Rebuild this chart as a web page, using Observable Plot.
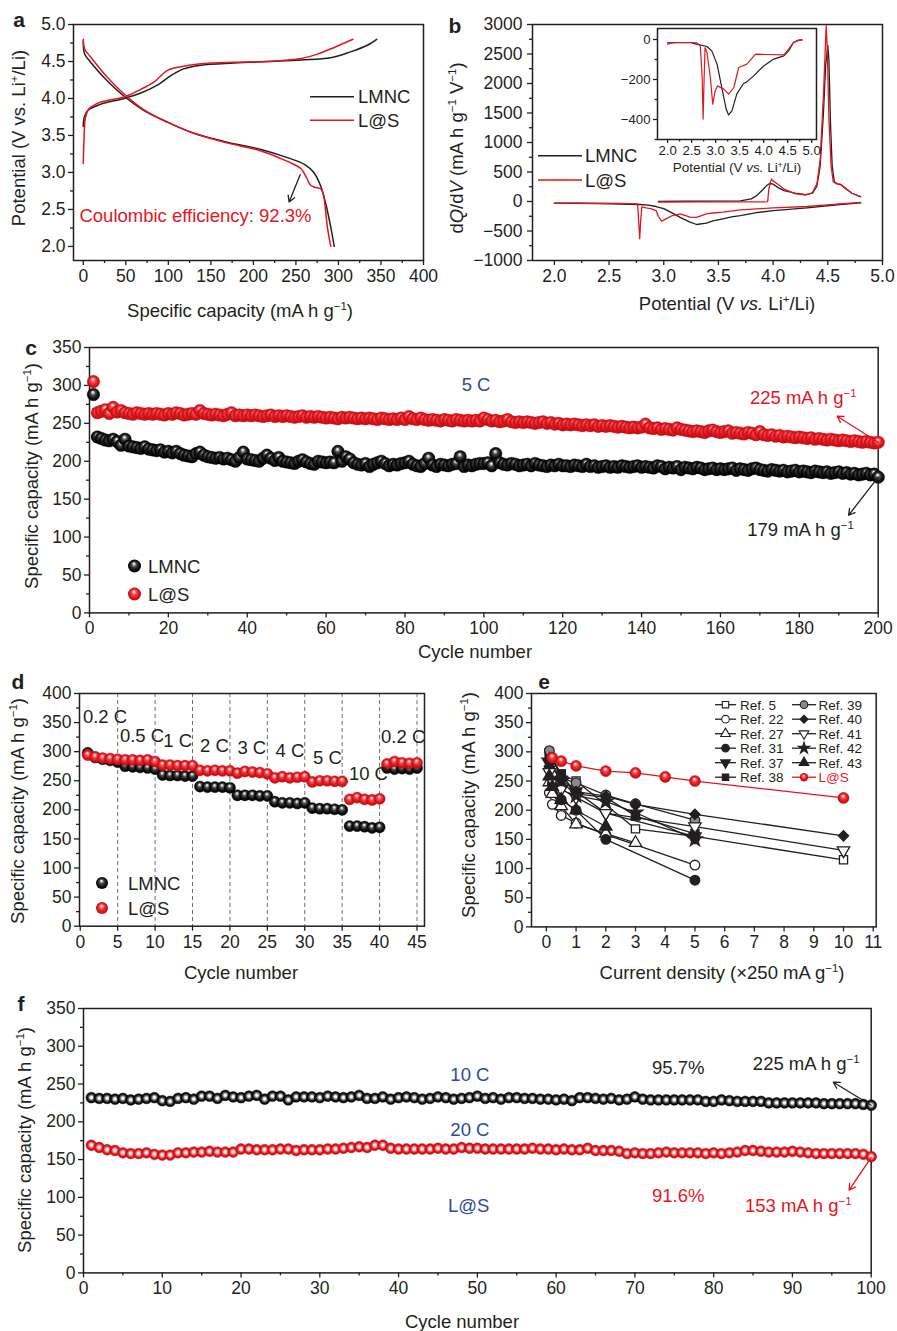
<!DOCTYPE html>
<html><head><meta charset="utf-8">
<script src="https://cdn.jsdelivr.net/npm/d3@7"></script>
<script src="https://cdn.jsdelivr.net/npm/@observablehq/plot@0.6"></script>
<style>
body{margin:0;background:#fff;}
#root{position:relative;width:897px;height:1331px;font-family:"Liberation Sans",Arial,Helvetica,sans-serif;color:#231f20;overflow:hidden;background:#fff;}
.t{position:absolute;white-space:nowrap;font-size:18.5px;line-height:1;}
.t sup{font-size:0.62em;vertical-align:0.55em;line-height:0;}
.lt{font-weight:bold;font-size:21px;}
</style></head><body><div id="root"></div>
<script>
// ---------------- DATA ----------------
// Panel a: charge/discharge curves [capacity, potential]
const aLmncCharge = [[0,3.62],[0.8,3.73],[5.5,3.84],[20,3.92],[48,4.0],[67,4.07],[87,4.18],[103,4.31],[118,4.40],[138,4.45],[177,4.48],[216,4.50],[256,4.52],[291,4.55],[314,4.63],[334,4.72],[345,4.80]];
const aLsCharge = [[0,3.12],[0.8,3.43],[2.7,3.75],[6.7,3.86],[20,3.95],[48,4.02],[67,4.12],[83,4.22],[99,4.38],[115,4.43],[138,4.47],[177,4.49],[216,4.50],[256,4.54],[275,4.60],[295,4.69],[317,4.80]];
const aLmncDischarge = [[0,4.78],[1.6,4.60],[8.6,4.49],[28,4.24],[48,4.03],[71,3.84],[99,3.68],[130,3.53],[169,3.41],[209,3.31],[240,3.20],[260,3.11],[271,3.0],[279,2.82],[285,2.58],[291,2.26],[295,2.0]];
const aLsDischarge = [[0,4.80],[1.6,4.67],[8.6,4.56],[28,4.29],[48,4.06],[71,3.85],[99,3.68],[130,3.53],[169,3.40],[209,3.29],[240,3.15],[256,3.05],[262,2.94],[267,2.83],[272,2.80],[279,2.78],[282,2.72],[284,2.58],[287,2.26],[291,2.0]];
const aXTicks = [0,50,100,150,200,250,300,350,400];
const aYTicks = [2.0,2.5,3.0,3.5,4.0,4.5,5.0];

// Panel b: dQ/dV [potential, dQ/dV]
const bLmncCharge = [[2.95,3],[3.2,4],[3.5,5],[3.7,10],[3.8,45],[3.85,100],[3.9,190],[3.94,270],[3.97,305],[4.0,295],[4.05,230],[4.1,185],[4.2,140],[4.3,115],[4.36,140],[4.4,260],[4.43,600],[4.46,1500],[4.48,2300],[4.50,2650],[4.51,2400],[4.525,1300],[4.54,600],[4.56,330],[4.59,300],[4.62,290],[4.66,230],[4.72,140],[4.8,80]];
const bLsCharge = [[2.95,-10],[3.3,-8],[3.6,-6],[3.9,-5],[3.95,-2],[3.96,200],[3.975,330],[3.985,380],[4.0,350],[4.05,285],[4.1,210],[4.2,135],[4.3,110],[4.36,150],[4.40,300],[4.43,700],[4.46,1800],[4.475,2500],[4.485,2980],[4.495,2600],[4.51,1400],[4.53,600],[4.55,330],[4.58,300],[4.62,280],[4.66,220],[4.72,140],[4.8,85]];
const bLmncDischarge = [[4.8,-23],[4.61,-51],[4.31,-107],[4.0,-153],[3.85,-190],[3.70,-238],[3.62,-260],[3.54,-294],[3.45,-330],[3.39,-368],[3.30,-390],[3.24,-350],[3.15,-270],[3.08,-198],[3.0,-120],[2.93,-85],[2.86,-62],[2.78,-51],[2.6,-42],[2.4,-35],[2.2,-30],[2.0,-28]];
const bLsDischarge = [[4.8,-17],[4.61,-40],[4.31,-85],[4.0,-107],[3.85,-125],[3.70,-141],[3.54,-181],[3.45,-195],[3.39,-209],[3.30,-270],[3.24,-265],[3.15,-209],[3.08,-238],[3.02,-294],[2.98,-334],[2.95,-250],[2.93,-153],[2.88,-120],[2.84,-107],[2.80,-90],[2.79,-300],[2.78,-630],[2.77,-300],[2.76,-40],[2.6,-32],[2.4,-30],[2.2,-28],[2.0,-28]];
const bXTicks = [2.0,2.5,3.0,3.5,4.0,4.5,5.0];
const bYTicks = [-1000,-500,0,500,1000,1500,2000,2500,3000];

// Panel b inset (discharge only)
const iLmnc = [[2.0,-17],[2.47,-15],[2.6,-23],[2.82,-35],[2.92,-57],[3.03,-123],[3.1,-207],[3.17,-290],[3.22,-348],[3.27,-377],[3.34,-357],[3.44,-273],[3.58,-220],[3.65,-212],[3.79,-182],[4.0,-132],[4.21,-98],[4.42,-82],[4.52,-57],[4.62,-15],[4.73,-3],[4.8,-2]];
const iLs = [[2.0,-23],[2.13,-15],[2.47,-15],[2.61,-17],[2.68,-32],[2.72,-190],[2.74,-398],[2.76,-200],[2.78,-40],[2.82,-65],[2.89,-190],[2.94,-323],[2.99,-257],[3.04,-232],[3.17,-248],[3.27,-273],[3.38,-240],[3.48,-140],[3.65,-123],[3.83,-73],[4.07,-75],[4.42,-77],[4.52,-48],[4.62,-15],[4.73,-3],[4.8,-2]];
const iXTicks = [2.0,2.5,3.0,3.5,4.0,4.5,5.0];
const iYTicks = [-400,-200,0];

// Panel c: 5 C cycling, 200 cycles
const cLmnc = [288,232,230,228,227,229,226,221,229,220, 219,218,217,219,216,215,214,215,212,213, 211,213,210,208,207,206,210,212,208,206, 205,204,205,203,204,202,200,205,212,203,
 202,201,200,204,208,204,201,205,200,199, 198,197,200,202,199,197,196,200,199,198, 199,198,213,200,206,203,198,196,195,197, 193,196,198,200,197,194,196,195,197,198,
 200,196,194,193,197,204,195,193,196,195, 194,196,197,206,193,195,194,196,197,197, 198,194,210,198,196,195,197,196,194,195, 196,194,197,195,194,193,195,194,196,194,
 194,193,195,194,193,196,193,194,192,193, 194,192,193,192,194,193,192,193,194,192, 193,192,191,194,193,190,192,191,193,189, 192,191,190,192,191,189,190,191,189,190,
 189,190,191,188,190,189,188,190,191,189, 188,187,189,188,187,188,186,187,188,186, 187,186,185,187,186,185,186,184,185,186, 184,185,183,184,182,183,184,182,183,179];
const cLs = [305,264,266,268,263,271,265,267,264,263, 262,264,263,262,263,262,263,262,261,263, 262,264,263,261,262,263,262,267,263,262, 261,262,261,260,262,264,260,261,260,261,
 260,261,260,259,260,261,259,260,259,260, 259,258,259,260,258,259,258,259,258,257, 258,257,256,258,257,258,257,256,257,256, 257,256,255,257,256,255,256,255,257,255,
 259,256,255,257,255,254,255,254,253,255, 254,253,255,254,253,254,253,254,253,257, 255,253,254,252,253,255,252,251,252,251, 252,251,250,251,252,250,251,249,250,248,
 249,248,249,248,247,248,247,248,246,247, 246,247,246,245,246,245,244,245,244,245, 249,244,243,244,242,243,242,241,244,242, 241,240,239,240,239,238,240,241,239,238,
 239,240,237,238,237,236,238,237,235,239, 235,234,235,233,234,232,233,232,231,232, 231,230,231,229,230,229,228,229,228,227, 228,227,226,227,226,225,226,225,224,225];
const cXTicks = [0,20,40,60,80,100,120,140,160,180,200];
const cYTicks = [0,50,100,150,200,250,300,350];

// Panel d: rate capability, 45 cycles
const dLmnc = [298,290,287,285,282, 275,274,273,272,270, 260,259,259,258,258, 240,239,239,239,238, 225,225,225,224,224, 214,212,212,211,212, 203,202,202,201,200, 172,172,171,169,170, 272,270,271,270,272];
const dLs = [294,291,289,288,287, 286,286,285,286,283, 277,277,276,276,276, 268,267,268,267,267, 263,266,265,264,262, 255,257,255,256,257, 248,250,250,249,249, 218,221,218,217,219, 279,283,281,280,281];
const dRates = ["0.2 C","0.5 C","1 C","2 C","3 C","4 C","5 C","10 C","0.2 C"];
const dXTicks = [0,5,10,15,20,25,30,35,40,45];
const dYTicks = [0,50,100,150,200,250,300,350,400];

// Panel e: comparison with literature [current density (x250 mA/g), capacity]
const eRef5  = [[0.1,298],[0.5,262],[1,250],[3,168],[5,155],[10,115]];
const eRef22 = [[0.1,230],[0.2,210],[0.5,191],[1,178],[2,158],[5,106]];
const eRef27 = [[0.1,248],[0.2,228],[0.5,207],[1,176],[2,160],[3,144]];
const eRef31 = [[0.1,270],[0.2,245],[0.5,218],[1,200],[2,150],[5,80]];
const eRef37 = [[0.1,280],[0.5,252],[1,232],[2,195],[5,155]];
const eRef38 = [[0.1,292],[0.5,262],[1,228],[2,222],[3,190],[5,160]];
const eRef39 = [[0.1,302],[0.5,255],[1,247],[2,226],[3,211],[5,183]];
const eRef40 = [[0.1,275],[0.5,258],[1,232],[2,224],[3,210],[5,193],[10,156]];
const eRef41 = [[0.1,265],[0.2,250],[0.5,236],[1,222],[2,195],[5,172],[10,131]];
const eRef42 = [[0.1,285],[0.5,250],[1,225],[2,215],[3,196],[5,150]];
const eRef43 = [[0.1,258],[0.2,240],[0.5,218],[1,200],[2,172]];
const eLs    = [[0.2,290],[0.5,284],[1,276],[2,267],[3,264],[4,257],[5,250],[10,221]];
const eXTicks = [0,1,2,3,4,5,6,7,8,9,10,11];
const eYTicks = [0,50,100,150,200,250,300,350,400];

// Panel f: L@S at 10 C and 20 C, 100 cycles
const f10C = [232,231,231,230,231,229,230,231,232,228, 227,231,232,230,234,234,231,235,233,232, 234,235,230,234,234,229,233,233,233,232, 234,233,232,233,235,231,231,233,230,232,
 233,232,230,231,233,232,230,231,232,234, 231,232,230,232,232,231,231,230,230,229, 230,228,232,232,231,230,231,229,230,233, 230,229,229,229,229,229,229,229,227,227,
 229,228,227,227,227,227,225,225,225,225, 225,225,225,224,224,224,224,224,223,222];
const f20C = [169,166,163,162,159,158,158,159,157,156, 156,159,159,160,160,161,160,160,160,164, 164,163,163,163,164,164,162,163,163,163, 164,164,165,166,167,166,169,169,165,164,
 164,164,164,164,165,164,164,166,165,165, 164,164,164,164,164,164,165,164,164,163, 164,163,163,165,162,162,162,161,158,159, 158,158,159,160,159,159,159,159,158,159,
 158,159,160,162,162,161,160,160,160,161, 160,159,158,158,158,158,158,158,157,154];
const fXTicks = [0,10,20,30,40,50,60,70,80,90,100];
const fYTicks = [0,50,100,150,200,250,300,350];

// ---------------- DRAWING ----------------
const INK = "#231f20", RED = "#e4161d", BLUE = "#2b4a9a";
const FONT = '"Liberation Sans", Arial, Helvetica, sans-serif';
const TICKFS = 17.5, LABFS = 18.5;
const root = document.getElementById("root");
const f1 = d3.format(".1f"), fd = d3.format("d");
const mids = (t) => t.slice(1).map((v, i) => (v + t[i]) / 2);

function panel(frame, m, xo, yo, marks, fs = TICKFS) {
  const [x0, y0, x1, y1] = frame, [mt, mr, mb, ml] = m;
  const p = Plot.plot({
    width: x1 - x0 + ml + mr, height: y1 - y0 + mt + mb,
    marginTop: mt, marginRight: mr, marginBottom: mb, marginLeft: ml,
    x: {...xo, axis: null, label: null}, y: {...yo, axis: null, label: null},
    style: {background: "transparent", fontFamily: FONT, fontSize: fs + "px", color: INK, overflow: "visible"},
    marks: marks.flat().filter(Boolean)
  });
  p.style.position = "absolute";
  p.style.left = (x0 - ml) + "px";
  p.style.top = (y0 - mt) + "px";
  p._ox = x0 - ml; p._oy = y0 - mt;
  root.appendChild(p);
  return p;
}
function axes(xt, xm, yt, ym, xf, yf, o = {}) {
  const ts = o.ts ?? 5, ms = o.ms ?? 3;
  return [
    Plot.axisX(xt, {tickSize: ts, tickPadding: o.xp ?? 4, tickFormat: xf, label: null, strokeWidth: 1.3}),
    xm ? Plot.axisX(xm, {tickSize: ms, tickFormat: () => "", label: null, strokeWidth: 1.3}) : null,
    Plot.axisY(yt, {tickSize: ts, tickPadding: o.yp ?? 3, tickFormat: yf, label: null, strokeWidth: 1.3}),
    ym ? Plot.axisY(ym, {tickSize: ms, tickFormat: () => "", label: null, strokeWidth: 1.3}) : null,
    Plot.frame({stroke: INK, strokeWidth: 1.5})
  ];
}
function txt(x, y, html, css = {}, tf = "translate(-50%,-50%)") {
  const d = document.createElement("div");
  d.className = "t"; d.innerHTML = html;
  d.style.left = x + "px"; d.style.top = y + "px"; d.style.transform = tf;
  Object.assign(d.style, css);
  root.appendChild(d);
  return d;
}
function note(p, xv, yv, html, css = {}, anchor = "start") {
  const X = p._ox + p.scale("x").apply(xv), Y = p._oy + p.scale("y").apply(yv);
  const tf = anchor === "start" ? "translate(0,-50%)" : anchor === "end" ? "translate(-100%,-50%)" : "translate(-50%,-50%)";
  return txt(X, Y, html, css, tf);
}
const ylab = (x, y, html, css = {}) => txt(x, y, html, css, "translate(-50%,-50%) rotate(-90deg)");
const px = (d) => d[0], py = (d) => d[1];
const arrowOpts = (color) => ({x1: d => d[0], y1: d => d[1], x2: d => d[2], y2: d => d[3], stroke: color, strokeWidth: 1.3, headLength: 8});

// ---- Panel a ----
const pa = panel([73, 24, 423, 260], [10, 10, 40, 50], {domain: [-11.5, 400]}, {domain: [1.81, 5.0]}, [
  axes(aXTicks, mids(aXTicks), aYTicks, mids(aYTicks), fd, f1),
  Plot.line(aLmncCharge, {x: px, y: py, stroke: INK, strokeWidth: 1.5, curve: "catmull-rom"}),
  Plot.line(aLmncDischarge, {x: px, y: py, stroke: INK, strokeWidth: 1.5, curve: "catmull-rom"}),
  Plot.line(aLsCharge, {x: px, y: py, stroke: RED, strokeWidth: 1.5, curve: "catmull-rom"}),
  Plot.line(aLsDischarge, {x: px, y: py, stroke: RED, strokeWidth: 1.5, curve: "catmull-rom"}),
  Plot.arrow([[255, 2.97, 242, 2.60]], arrowOpts(INK))
]);
note(pa, -3.9, 2.40, "Coulombic efficiency: 92.3%", {color: RED});
txt(240, 311, "Specific capacity (mA h g<sup>−1</sup>)");
ylab(18.5, 138, "Potential (V vs. Li<sup>+</sup>/Li)");
txt(19, 19, "a").classList.add("lt");

// ---- Panel b ----
const pb = panel([532, 24, 882, 260], [10, 10, 40, 70], {domain: [1.8, 5.0]}, {domain: [-1000, 3000]}, [
  axes(bXTicks, mids(bXTicks), bYTicks, mids(bYTicks), f1, fd, {yp: 5}),
  Plot.line(bLmncCharge, {x: px, y: py, stroke: INK, strokeWidth: 1.3}),
  Plot.line(bLmncDischarge, {x: px, y: py, stroke: INK, strokeWidth: 1.3}),
  Plot.line(bLsCharge, {x: px, y: py, stroke: RED, strokeWidth: 1.3}),
  Plot.line(bLsDischarge, {x: px, y: py, stroke: RED, strokeWidth: 1.3})
]);
txt(727, 304, "Potential (V <i>vs.</i> Li<sup>+</sup>/Li)");
ylab(456.5, 148, "d<i>Q</i>/d<i>V</i> (mA h g<sup>−1</sup> V<sup>−1</sup>)");
txt(455, 25, "b").classList.add("lt");
// inset
const pi = panel([657, 28, 816, 139], [6, 6, 25, 40], {domain: [1.79, 5.1]}, {domain: [-500, 55]}, [
  axes(iXTicks, mids(iXTicks), iYTicks, [-500, -300, -100], f1, fd, {ts: 4, ms: 2.5, xp: 2, yp: 3}),
  Plot.line(iLmnc, {x: px, y: py, stroke: INK, strokeWidth: 1.2}),
  Plot.line(iLs, {x: px, y: py, stroke: RED, strokeWidth: 1.2})
], 13.2);
txt(737, 168, "Potential (V <i>vs.</i> Li<sup>+</sup>/Li)", {fontSize: "13.5px"});

// ---- Panel c ----
const cCycles = cLmnc.map((_, i) => i + 1);
const pc = panel([89, 347.3, 877.7, 612.7], [10, 10, 40, 60], {domain: [0, 200]}, {domain: [0, 350]}, [
  axes(cXTicks, mids(cXTicks), cYTicks, mids(cYTicks), fd, fd),
  Plot.dot(cLmnc, {x: (d, i) => cCycles[i], y: d => d, r: 6.3, fill: "url(#gBk)", stroke: "#000", strokeWidth: 0.4}),
  Plot.dot(cLs, {x: (d, i) => cCycles[i], y: d => d, r: 6.3, fill: "url(#gRd)", stroke: "#c5121a", strokeWidth: 0.4}),
  Plot.arrow([[200, 225, 189.6, 259.4]], arrowOpts(RED)),
  Plot.arrow([[200, 179, 192.5, 128.8]], arrowOpts(INK))
]);
note(pc, 94.5, 300, "5 C", {color: BLUE});
note(pc, 167.6, 282.7, "225 mA h g<sup>−1</sup>", {color: RED});
note(pc, 166.9, 109, "179 mA h g<sup>−1</sup>", {color: INK});
txt(475, 651.5, "Cycle number");
ylab(32, 475.5, "Specific capacity (mA h g<sup>−1</sup>)");
txt(31, 347, "c").classList.add("lt");

// ---- Panel d ----
const dCycles = dLmnc.map((_, i) => i + 1);
const dRateX = [0.36, 5.3, 11.1, 16.0, 21.0, 26.1, 31.1, 35.9, 40.2];
const dRateY = [360, 327, 318, 310, 306, 301, 289, 261, 325];
const pd = panel([79, 693.3, 424, 926], [10, 10, 40, 60], {domain: [-0.1, 46]}, {domain: [0, 400]}, [
  Plot.ruleX(dXTicks.slice(1), {stroke: "#6d6e71", strokeWidth: 1, strokeDasharray: "4,3"}),
  axes(dXTicks, null, dYTicks, mids(dYTicks), fd, fd),
  Plot.dot(dLmnc, {x: (d, i) => dCycles[i], y: d => d, r: 5.6, fill: "url(#gBk)", stroke: "#000", strokeWidth: 0.4}),
  Plot.dot(dLs, {x: (d, i) => dCycles[i], y: d => d, r: 5.6, fill: "url(#gRd)", stroke: "#c5121a", strokeWidth: 0.4}),
  Plot.text(dRates, {x: (d, i) => dRateX[i], y: (d, i) => dRateY[i], text: d => d, textAnchor: "start", fontSize: LABFS, fill: INK})
]);
txt(241, 973.3, "Cycle number");
ylab(17.5, 810.5, "Specific capacity (mA h g<sup>−1</sup>)");
txt(18, 681, "d").classList.add("lt");

// ---- Panel e ----
const eSeries = [
  {name: "Ref. 5", data: eRef5, symbol: "square", fill: "white"},
  {name: "Ref. 22", data: eRef22, symbol: "circle", fill: "white"},
  {name: "Ref. 27", data: eRef27, symbol: "triangle", fill: "white"},
  {name: "Ref. 31", data: eRef31, symbol: "circle", fill: INK},
  {name: "Ref. 37", data: eRef37, symbol: "triangle", fill: INK, rotate: 180},
  {name: "Ref. 38", data: eRef38, symbol: "square", fill: INK},
  {name: "Ref. 39", data: eRef39, symbol: "circle", fill: "#8a8a8a"},
  {name: "Ref. 40", data: eRef40, symbol: "diamond2", fill: INK},
  {name: "Ref. 41", data: eRef41, symbol: "triangle", fill: "white", rotate: 180},
  {name: "Ref. 42", data: eRef42, symbol: "star", fill: INK},
  {name: "Ref. 43", data: eRef43, symbol: "triangle", fill: INK}
];
const pe = panel([531, 693.3, 875.7, 926.7], [10, 10, 40, 60], {domain: [-0.5, 11.1]}, {domain: [0, 400]}, [
  axes(eXTicks, null, eYTicks, mids(eYTicks), fd, fd),
  eSeries.map(s => Plot.line(s.data, {x: px, y: py, stroke: INK, strokeWidth: 1.3})),
  eSeries.map(s => Plot.dot(s.data, {x: px, y: py, symbol: s.symbol, r: s.symbol === "circle" ? 4.8 : 4.6, fill: s.fill, stroke: INK, strokeWidth: 1.3, rotate: s.rotate ?? 0})),
  Plot.line(eLs, {x: px, y: py, stroke: RED, strokeWidth: 1.3}),
  Plot.dot(eLs, {x: px, y: py, r: 5.6, fill: "url(#gRd)", stroke: "#c5121a", strokeWidth: 0.4})
]);
txt(722, 973, "Current density (×250 mA g<sup>−1</sup>)");
ylab(468.5, 804.5, "Specific capacity (mA h g<sup>−1</sup>)");
txt(544, 681, "e").classList.add("lt");

// ---- Panel f ----
const fCycles = f10C.map((_, i) => i + 1);
const pf = panel([83.3, 1008.3, 871, 1272.7], [10, 10, 40, 60], {domain: [0, 100]}, {domain: [0, 350]}, [
  axes(fXTicks, mids(fXTicks), fYTicks, mids(fYTicks), fd, fd),
  Plot.dot(f10C, {x: (d, i) => fCycles[i], y: d => d, r: 5.4, fill: "url(#gBkR)", stroke: "#000", strokeWidth: 0.5}),
  Plot.dot(f20C, {x: (d, i) => fCycles[i], y: d => d, r: 5.4, fill: "url(#gRdR)", stroke: "#c5121a", strokeWidth: 0.5}),
  Plot.arrow([[100, 222, 95.2, 252.4]], arrowOpts(INK)),
  Plot.arrow([[100, 153, 97.2, 109.5]], arrowOpts(RED))
]);
note(pf, 46.6, 261.7, "10 C", {color: BLUE});
note(pf, 46.6, 188.9, "20 C", {color: BLUE});
note(pf, 46.3, 88.3, "L@S", {color: BLUE});
note(pf, 72.2, 271, "95.7%", {color: INK});
note(pf, 72.2, 101.5, "91.6%", {color: RED});
note(pf, 85.0, 276.3, "225 mA h g<sup>−1</sup>", {color: INK});
note(pf, 84.0, 88.3, "153 mA h g<sup>−1</sup>", {color: RED});
txt(462, 1321.7, "Cycle number");
ylab(25, 1140, "Specific capacity (mA h g<sup>−1</sup>)");
txt(21, 1003, "f").classList.add("lt");

// ---------------- overlay: gradients + legends ----------------
const ov = d3.create("svg").attr("width", 897).attr("height", 1331)
  .style("position", "absolute").style("left", "0").style("top", "0").style("pointer-events", "none")
  .style("font-family", FONT);
const defs = ov.append("defs");
function grad(id, stops, fx, fy) {
  const g = defs.append("radialGradient").attr("id", id).attr("cx", 0.5).attr("cy", 0.5).attr("r", 0.5).attr("fx", fx).attr("fy", fy);
  stops.forEach(([o, c]) => g.append("stop").attr("offset", o).attr("stop-color", c));
}
grad("gBk", [[0, "#ffffff"], [0.14, "#d0d0d0"], [0.38, "#4a4a4a"], [0.72, "#111"], [1, "#000"]], 0.45, 0.3);
grad("gRd", [[0, "#ffffff"], [0.14, "#ffc4c4"], [0.38, "#f04a4f"], [0.72, "#e3141b"], [1, "#b80d12"]], 0.45, 0.3);
grad("gBkR", [[0, "#ffffff"], [0.22, "#f4f4f4"], [0.45, "#7a7a7a"], [0.7, "#1a1a1a"], [1, "#000"]], 0.5, 0.48);
grad("gRdR", [[0, "#ffffff"], [0.22, "#fff0f0"], [0.45, "#f27d80"], [0.7, "#e3141b"], [1, "#c00d13"]], 0.5, 0.48);

// line legends (a, b)
function lineLeg(x1, x2, y, color, label, tx, fs) {
  ov.append("line").attr("x1", x1).attr("x2", x2).attr("y1", y).attr("y2", y).attr("stroke", color).attr("stroke-width", 1.6);
  ov.append("text").attr("x", tx).attr("y", y).attr("dy", "0.36em").attr("font-size", fs).attr("fill", INK).text(label);
}
lineLeg(310, 354, 96.7, INK, "LMNC", 358, LABFS);
lineLeg(310, 354, 120.3, RED, "L@S", 358, LABFS);
lineLeg(538, 582, 155.7, INK, "LMNC", 585, LABFS);
lineLeg(538, 582, 180, RED, "L@S", 585, LABFS);
// sphere legends (c, d)
function ballLeg(cx, y, g, label, tx, r) {
  ov.append("circle").attr("cx", cx).attr("cy", y).attr("r", r).attr("fill", `url(#${g})`);
  ov.append("text").attr("x", tx).attr("y", y).attr("dy", "0.36em").attr("font-size", LABFS).attr("fill", INK).text(label);
}
ballLeg(134.5, 566, "gBk", "LMNC", 148, 6.5);
ballLeg(134.5, 594, "gRd", "L@S", 148, 6.5);
ballLeg(102, 883, "gBk", "LMNC", 128, 6);
ballLeg(102, 908, "gRd", "L@S", 128, 6);
// panel e legend
const symMap = {square: d3.symbolSquare, circle: d3.symbolCircle, triangle: d3.symbolTriangle, diamond2: d3.symbolDiamond2, star: d3.symbolStar};
const legItems = eSeries.concat([{name: "L@S", ls: true}]);
legItems.forEach((s, i) => {
  const col = i < 6 ? 0 : 1, row = i % 6;
  const y = 704.7 + row * 14.5;
  const [lx1, lx2, mx, tx] = col === 0 ? [715, 736, 725.5, 740] : [792, 816, 804, 818.5];
  const c = s.ls ? RED : INK;
  ov.append("line").attr("x1", lx1).attr("x2", lx2).attr("y1", y).attr("y2", y).attr("stroke", c).attr("stroke-width", 1.3);
  if (s.ls) {
    ov.append("circle").attr("cx", mx).attr("cy", y).attr("r", 4.2).attr("fill", "url(#gRd)");
  } else {
    const r = s.symbol === "circle" ? 3.8 : 3.6;
    ov.append("path").attr("d", d3.symbol(symMap[s.symbol], Math.PI * r * r)())
      .attr("transform", `translate(${mx},${y}) rotate(${s.rotate ?? 0})`)
      .attr("fill", s.fill).attr("stroke", INK).attr("stroke-width", 1.1);
  }
  ov.append("text").attr("x", tx).attr("y", y).attr("dy", "0.36em").attr("font-size", 13.5).attr("fill", s.ls ? RED : INK).text(s.name);
});
root.appendChild(ov.node());
</script></body></html>
